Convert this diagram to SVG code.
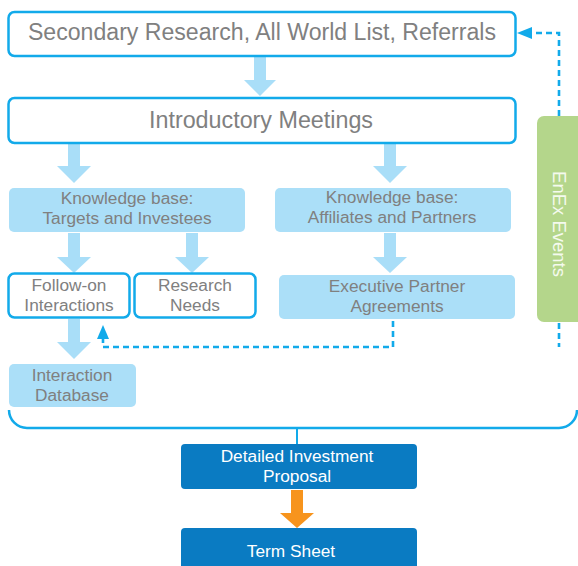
<svg xmlns="http://www.w3.org/2000/svg" width="578" height="566" viewBox="0 0 578 566">
  <style>
    text { font-family: "Liberation Sans", Arial, Helvetica, sans-serif; text-anchor: middle; }
    .outline { fill: #ffffff; stroke: #12aaea; stroke-width: 2.5; }
    .light { fill: #abdff8; }
    .dark { fill: #0a7bc2; }
    .green { fill: #b4d68b; }
    .gray { fill: #808080; }
    .white { fill: #ffffff; }
    .flow { fill: #a9def8; }
    .dash { fill: none; stroke: #12aaea; stroke-width: 2.6; stroke-dasharray: 6 4; }
    .solid { fill: none; stroke: #12aaea; stroke-width: 2.5; }
    .label { font-size: 17.3px; }
  </style>

  <!-- connectors -->
  <g id="connectors">
    <!-- block arrows -->
    <polygon class="flow" points="254,57 266,57 266,80 276,80 260,96 244,80 254,80"/>
    <polygon class="flow" points="68,143 80,143 80,166 91,166 74,183 57,166 68,166"/>
    <polygon class="flow" points="384,143 396,143 396,166 407,166 390,183 373,166 384,166"/>
    <polygon class="flow" points="68,233 80,233 80,257 91,257 74,273 57,257 68,257"/>
    <polygon class="flow" points="186,233 198,233 198,257 209,257 192,273 175,257 186,257"/>
    <polygon class="flow" points="384,233 396,233 396,257 407,257 390,273 373,257 384,257"/>
    <polygon class="flow" points="68,319 80,319 80,342 91,342 74,359 57,342 68,342"/>
    <polygon fill="#f7941d" points="291,490 303,490 303,513 314,513 297,528 280,513 291,513"/>

    <!-- dashed feedback lines -->
    <path class="dash" d="M393,321 V347 H103 V338"/>
    <path class="dash" d="M559,323 V347"/>
    <polygon fill="#12aaea" points="103,325 109,339 97,339"/>
    <path class="dash" d="M559,116 V33 H530"/>
    <polygon fill="#12aaea" points="517,33 532,27 532,39"/>

    <!-- bracket gathering the upper stages -->
    <path class="solid" d="M9,410 A18,18 0 0 0 27,428 H559 A18,18 0 0 0 577,410"/>
    <line x1="297" y1="428" x2="297" y2="445" stroke="#12aaea" stroke-width="2"/>
  </g>

  <g id="secondary-research">
    <rect class="outline" x="8.5" y="12" width="507" height="44" rx="6"/>
    <text class="gray" x="262" y="40" font-size="23.1">Secondary Research, All World List, Referrals</text>
  </g>

  <g id="introductory-meetings">
    <rect class="outline" x="8.5" y="98" width="507" height="45" rx="6"/>
    <text class="gray" x="261" y="128" font-size="23.3">Introductory Meetings</text>
  </g>

  <g id="kb-targets">
    <rect class="light" x="9" y="188" width="236" height="44" rx="5"/>
    <text class="gray label" x="127" y="204"><tspan x="127">Knowledge base:</tspan><tspan x="127" dy="20">Targets and Investees</tspan></text>
  </g>

  <g id="kb-affiliates">
    <rect class="light" x="275" y="188" width="236" height="44" rx="5"/>
    <text class="gray label" x="392" y="203"><tspan x="392">Knowledge base:</tspan><tspan x="392" dy="20">Affiliates and Partners</tspan></text>
  </g>

  <g id="follow-on">
    <rect class="outline" x="8.5" y="273.5" width="121" height="44" rx="6"/>
    <text class="gray label" x="69" y="291"><tspan x="69">Follow-on</tspan><tspan x="69" dy="20">Interactions</tspan></text>
  </g>

  <g id="research-needs">
    <rect class="outline" x="134.5" y="273.5" width="121" height="44" rx="6"/>
    <text class="gray label" x="195" y="291"><tspan x="195">Research</tspan><tspan x="195" dy="20">Needs</tspan></text>
  </g>

  <g id="executive-partner">
    <rect class="light" x="279" y="275" width="236" height="44" rx="5"/>
    <text class="gray label" x="397" y="292"><tspan x="397">Executive Partner</tspan><tspan x="397" dy="20">Agreements</tspan></text>
  </g>

  <g id="interaction-database">
    <rect class="light" x="9" y="364" width="127" height="43" rx="5"/>
    <text class="gray label" x="72" y="381"><tspan x="72">Interaction</tspan><tspan x="72" dy="20">Database</tspan></text>
  </g>

  <g id="enex-events">
    <rect class="green" x="537" y="116" width="48" height="206" rx="7"/>
    <text fill="#f4faee" font-size="18.5" transform="translate(553,224) rotate(90)">EnEx Events</text>
  </g>

  <g id="investment-proposal">
    <rect class="dark" x="181" y="444" width="236" height="45" rx="4"/>
    <text class="white label" x="297" y="462"><tspan x="297">Detailed Investment</tspan><tspan x="297" dy="20">Proposal</tspan></text>
  </g>

  <g id="term-sheet">
    <rect class="dark" x="181" y="528" width="236" height="50" rx="4"/>
    <text class="white label" x="291" y="557">Term Sheet</text>
  </g>
</svg>
